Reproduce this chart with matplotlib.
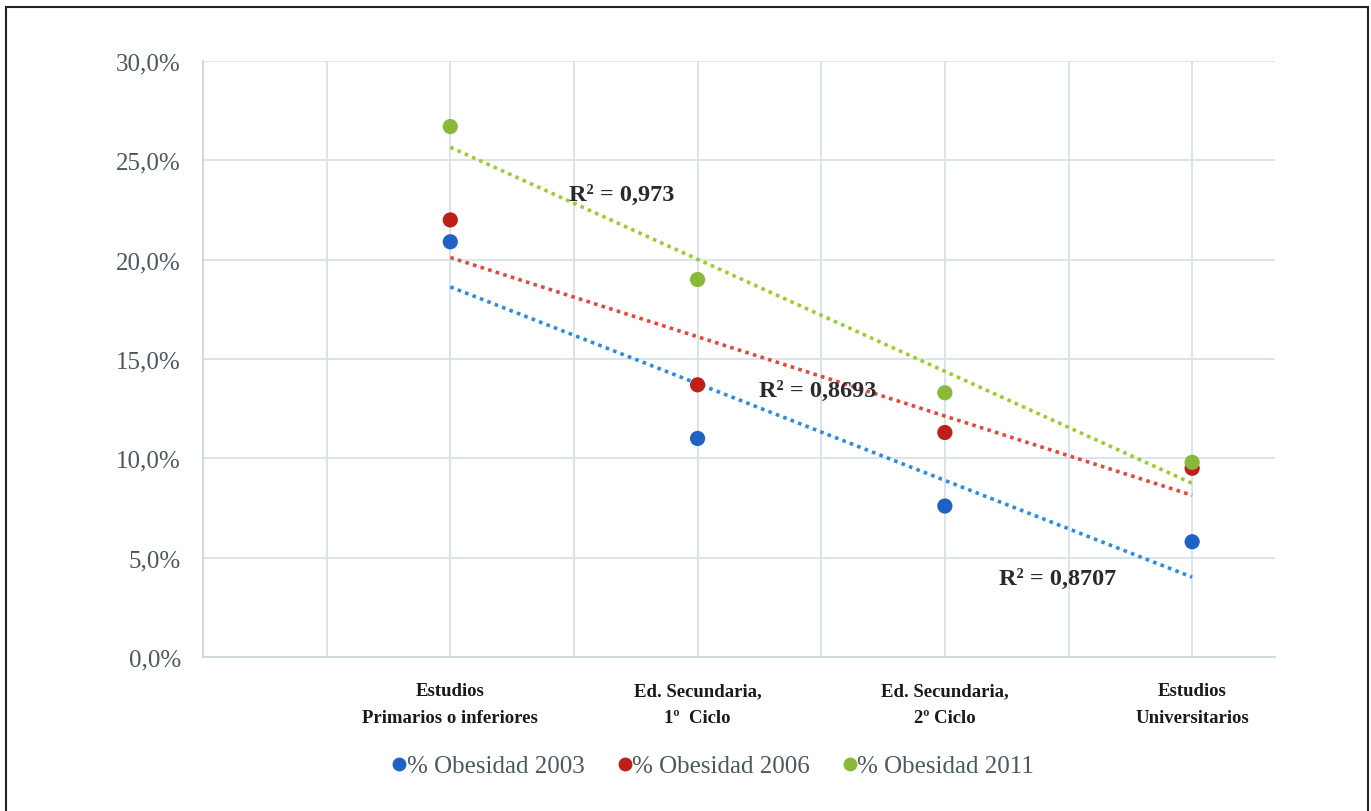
import numpy as np
import matplotlib
matplotlib.use("Agg")
import matplotlib.pyplot as plt
from matplotlib.lines import Line2D
from matplotlib.patches import Rectangle

# Datos (% de obesidad por nivel de estudios)
niveles = ["Estudios\nPrimarios o inferiores", "Ed. Secundaria,\n1º  Ciclo",
           "Ed. Secundaria,\n2º Ciclo", "Estudios\nUniversitarios"]
x_pos = [1, 2, 3, 4]
obesidad_2003 = [20.9, 11.0, 7.6, 5.8]
obesidad_2006 = [22.0, 13.7, 11.3, 9.5]
obesidad_2011 = [26.7, 19.0, 13.3, 9.8]
series_nombres = ["% Obesidad 2003", "% Obesidad 2006", "% Obesidad 2011"]
r2_textos = ["R² = 0,8707", "R² = 0,8693", "R² = 0,973"]

colores_punto = ["#1f62c4", "#c01e18", "#8ab93a"]
colores_linea = ["#2a8ce6", "#e4483b", "#9ccc2e"]

plt.rcParams["font.family"] = ["Liberation Serif", "DejaVu Serif"]

fig = plt.figure(figsize=(13.71, 8.12), dpi=100)
ax = fig.add_axes([203 / 1371, 1 - 658 / 812, (1275 - 203) / 1371, (658 - 62) / 812])

datos = [obesidad_2003, obesidad_2006, obesidad_2011]
for vals, cp, cl in zip(datos, colores_punto, colores_linea):
    pend, orde = np.polyfit(x_pos, vals, 1)
    xs = np.array([x_pos[0], x_pos[-1]])
    ax.plot(xs, pend * xs + orde, color=cl, lw=2.6, linestyle=(0, (1, 1.2)), zorder=2)
    ax.scatter(x_pos, vals, s=120, color=cp, zorder=3, edgecolors="none")

# etiquetas R²
pos_r2 = [(3.22, 3.95), (2.25, 13.4), (1.48, 23.3)]
for (tx, ty), txt in zip(pos_r2, r2_textos):
    ax.text(tx, ty, txt, fontsize=17.5, fontweight="bold", color="#2a2a2a",
            ha="left", va="center", zorder=4)

ax.set_xlim(0, 4.335)
ax.set_ylim(0, 30)
ticks_x = np.arange(0, 4.01, 0.5)
ax.set_xticks(ticks_x)
ax.set_xticklabels(["" if (t % 1 or t < 1) else niveles[int(t) - 1] for t in ticks_x],
                   fontsize=13.5, fontweight="bold", color="#1a1a1a", linespacing=1.8)
ax.set_yticks(np.arange(0, 30.1, 5))
ax.set_yticklabels([f"{v:.1f}%".replace(".", ",") for v in np.arange(0, 30.1, 5)],
                   fontsize=18, color="#4a5960")
ax.tick_params(length=0)
ax.tick_params(axis="x", pad=18)
ax.tick_params(axis="y", pad=16)
ax.grid(True, color="#d8e2e8", lw=1.3)
ax.set_axisbelow(True)
for lado in ["top", "right"]:
    ax.spines[lado].set_visible(False)
for lado in ["left", "bottom"]:
    ax.spines[lado].set_color("#ccd8e0")
    ax.spines[lado].set_linewidth(1.3)

# leyenda
manejadores = [Line2D([], [], marker="o", linestyle="none", markersize=10,
                      markerfacecolor=c, markeredgecolor="none") for c in colores_punto]
fig.legend(manejadores, series_nombres, loc="center", bbox_to_anchor=(713 / 1371, 1 - 767 / 812),
           ncol=3, frameon=False, fontsize=18, handlelength=0.6, handletextpad=0.0,
           columnspacing=1.3, labelcolor="#4a5960")

# marco exterior
fig.patches.append(Rectangle((6 / 1371, -0.01), (1368 - 6) / 1371, 1 - 8 / 812 + 0.01,
                             transform=fig.transFigure, fill=False, edgecolor="#222222", lw=1.5))

fig.savefig("out.png", dpi=100)
